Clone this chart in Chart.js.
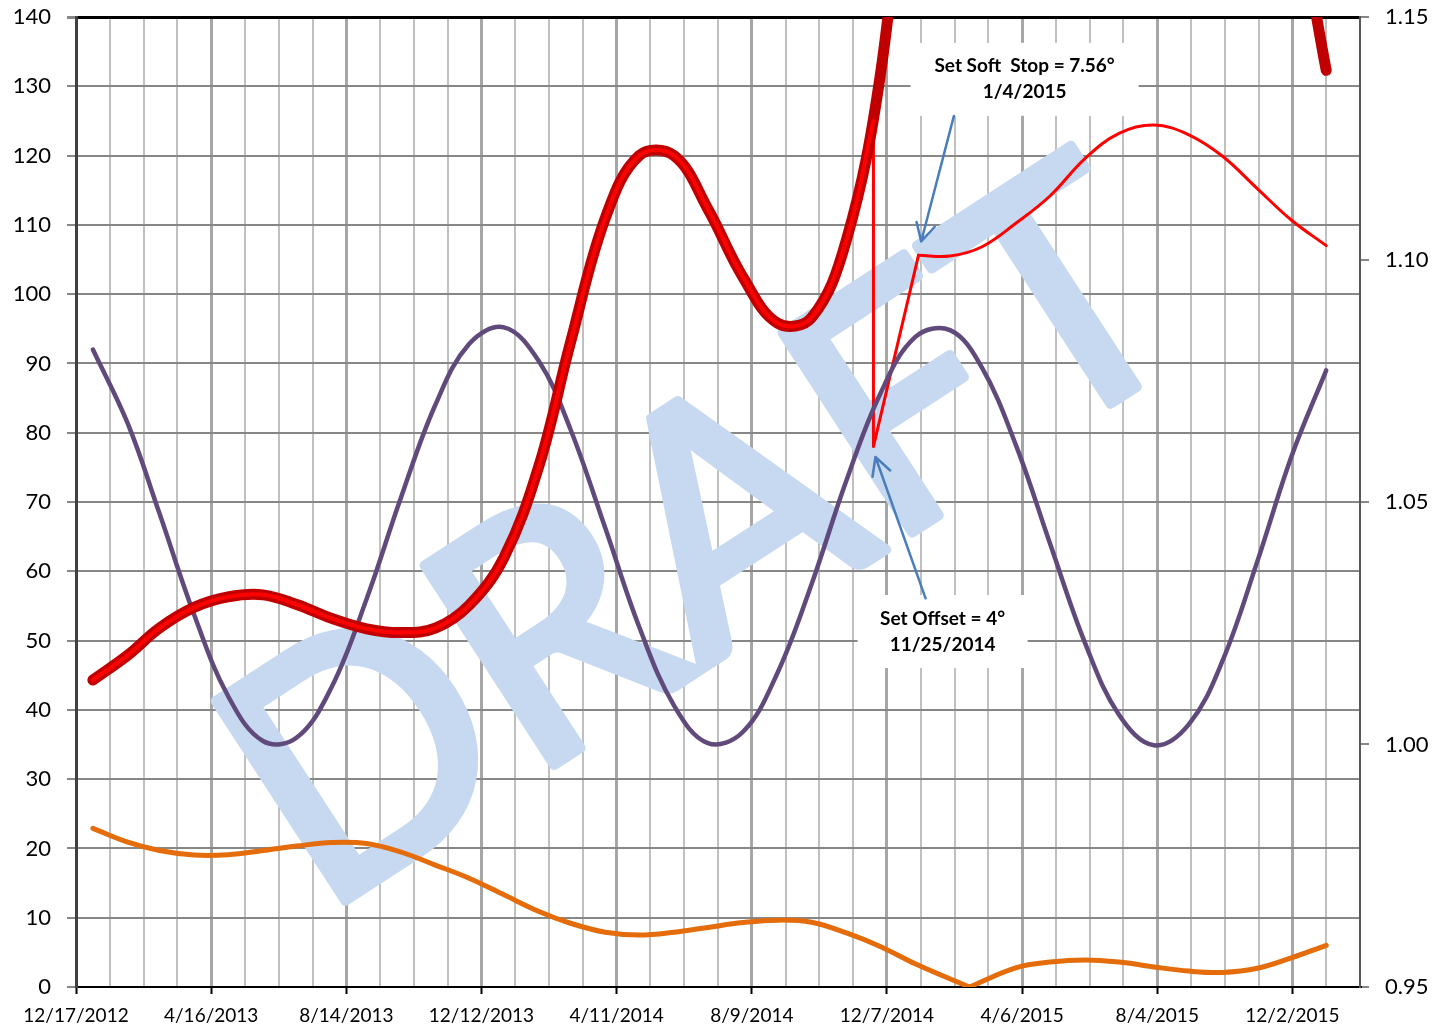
<!DOCTYPE html>
<html>
<head>
<meta charset="utf-8">
<script src="https://cdn.jsdelivr.net/npm/chart.js@4.4.1/dist/chart.umd.min.js"></script>
<style>
  html, body { margin: 0; padding: 0; background: #fff; }
  #wrap { width: 1443px; height: 1027px; }
</style>
</head>
<body>
<div id="wrap"><canvas id="grafico"></canvas></div>
<script>
// monthly dates (first day of each month)
const monthDates = [
  '2013-01-01', '2013-02-01', '2013-03-01', '2013-04-01', '2013-05-01', '2013-06-01',
  '2013-07-01', '2013-08-01', '2013-09-01', '2013-10-01', '2013-11-01', '2013-12-01',
  '2014-01-01', '2014-02-01', '2014-03-01', '2014-04-01', '2014-05-01', '2014-06-01',
  '2014-07-01', '2014-08-01', '2014-09-01', '2014-10-01', '2014-11-01', '2014-12-01',
  '2015-01-01', '2015-02-01', '2015-03-01', '2015-04-01', '2015-05-01', '2015-06-01',
  '2015-07-01', '2015-08-01', '2015-09-01', '2015-10-01', '2015-11-01', '2015-12-01',
  '2016-01-01'
];

// thick dark red series (goes above the top of the chart in 2015)
const thickValues = [
  44.3, 47.9, 51.8, 54.8, 56.3, 56.6, 55.2, 53.2, 51.7, 51.15, 51.8, 55.1,
  62.0, 75.2, 93.0, 111.0, 120.0, 120.0, 112.3, 102.5, 95.8, 96.6, 107.8, 131.5,
  175, 200, 214, 222, 225, 224, 220, 213, 203, 190, 176, 159,
  132.3
];

// thin red series (offset / soft stop)
const offsetDates = [
  '2013-01-01', '2013-02-01', '2013-03-01', '2013-04-01', '2013-05-01', '2013-06-01',
  '2013-07-01', '2013-08-01', '2013-09-01', '2013-10-01', '2013-11-01', '2013-12-01',
  '2014-01-01', '2014-02-01', '2014-03-01', '2014-04-01', '2014-05-01', '2014-06-01',
  '2014-07-01', '2014-08-01', '2014-09-01', '2014-10-01', '2014-11-01',
  '2014-11-25', '2014-11-25', '2015-01-04',
  '2015-02-01', '2015-03-01', '2015-04-01', '2015-05-01', '2015-06-01', '2015-07-01',
  '2015-08-01', '2015-09-01', '2015-10-01', '2015-11-01', '2015-12-01', '2016-01-01'
];
const offsetValues = [
  44.3, 47.9, 51.8, 54.8, 56.3, 56.6, 55.2, 53.2, 51.7, 51.15, 51.8, 55.1,
  62.0, 75.2, 93.0, 111.0, 120.0, 120.0, 112.3, 102.5, 95.8, 96.6, 107.8,
  125.0, 78.0, 105.6,
  105.5, 106.8, 110.3, 114.2, 119.6, 123.2, 124.4, 123.0, 119.9, 115.2, 110.7, 107.0
];

// purple series
const purpleValues = [
  92.0, 81.3, 68.4, 53.7, 42.0, 35.5, 36.0, 43.3, 56.0, 70.4, 84.0, 92.8,
  95.2, 90.3, 80.5, 66.2, 52.0, 40.6, 35.2, 36.8, 45.4, 58.1, 73.1, 85.6,
  93.8, 94.8, 89.5, 78.0, 63.9, 49.6, 39.3, 34.9, 37.9, 47.1, 61.5, 76.5,
  89.0
];

// orange series
const orangeDates = [
  '2013-01-01', '2013-02-01', '2013-03-01', '2013-04-01', '2013-05-01', '2013-06-01',
  '2013-07-01', '2013-08-01', '2013-09-01', '2013-10-01', '2013-11-01', '2013-12-01',
  '2014-01-01', '2014-02-01', '2014-03-01', '2014-04-01', '2014-05-01', '2014-06-01',
  '2014-07-01', '2014-08-01', '2014-09-01', '2014-10-01', '2014-11-01', '2014-12-01',
  '2015-01-01', '2015-02-18',
  '2015-04-01', '2015-05-01', '2015-06-01', '2015-07-01', '2015-08-01', '2015-09-01',
  '2015-10-01', '2015-11-01', '2015-12-01', '2016-01-01'
];
const orangeValues = [
  22.9, 20.9, 19.7, 19.05, 19.1, 19.7, 20.35, 20.85, 20.7, 19.5, 17.6, 15.7,
  13.3, 10.9, 9.2, 7.9, 7.5, 7.9, 8.6, 9.3, 9.65, 9.35, 7.8, 5.85,
  3.35, 0.0,
  2.8, 3.6, 3.9, 3.6, 2.9, 2.3, 2.1, 2.7, 4.2, 6.0
];

// axis settings
const startDate = '2012-12-17';
const xMaxDays = 1140;
const majorDays = 120;
const minorDays = 30;
const leftMin = 0, leftMax = 140, leftStep = 10;
const rightMin = 0.95, rightMax = 1.15, rightStep = 0.05;

// callouts (box centre and arrow given in chart units: days, left axis value)
const notes = [
  { lines: ['Set Soft  Stop = 7.56°', '1/4/2015'], day: 842.2, val: 131.0, w: 228, h: 73,
    fromDay: 779.4, fromVal: 125.7, toDay: 750.4, toVal: 107.6 },
  { lines: ['Set Offset = 4°', '11/25/2014'], day: 769.4, val: 51.3, w: 170, h: 73,
    fromDay: 754.3, fromVal: 56.1, toDay: 709.8, toVal: 76.5 }
];

// watermark anchor (lower left corner of the text, chart units)
const watermark = { text: 'DRAFT', day: 234.5, val: 11.1, angle: -33, width: 1035, capHeight: 248, stroke: 10, color: '#C6D9F1' };

const DAY = 86400000;
function toDay(s) {
  return (Date.parse(s) - Date.parse(startDate)) / DAY;
}
function dayLabel(v) {
  const d = new Date(Date.parse(startDate) + v * DAY);
  return (d.getUTCMonth() + 1) + '/' + d.getUTCDate() + '/' + d.getUTCFullYear();
}
function pts(dates, values, from, to) {
  const end = to === undefined ? dates.length : to;
  const out = [];
  for (let i = from; i < end; i++) out.push({ x: toDay(dates[i]), y: values[i] });
  return out;
}

function serie(data, color, width, tension) {
  return {
    data: data,
    borderColor: color,
    borderWidth: width,
    pointRadius: 0,
    tension: tension,
    borderCapStyle: 'round',
    borderJoinStyle: 'round',
    fill: false,
    clip: 0,
    yAxisID: 'y'
  };
}

// vertical axes: no extra room above/below for the end labels
function fitVertical(width) {
  return function (scale) {
    scale.width = width;
    scale.paddingTop = 0;
    scale.paddingBottom = 0;
  };
}

const watermarkPlugin = {
  id: 'watermark',
  beforeDatasetsDraw(chart) {
    const ctx = chart.ctx;
    const a = chart.chartArea;
    const ox = chart.scales.x.getPixelForValue(watermark.day);
    const oy = chart.scales.y.getPixelForValue(watermark.val);
    ctx.save();
    ctx.beginPath();
    ctx.rect(a.left, a.top, a.right - a.left, a.bottom - a.top);
    ctx.clip();
    ctx.translate(ox, oy);
    ctx.rotate(watermark.angle * Math.PI / 180);
    const sw = watermark.stroke;
    const fs = (watermark.capHeight - sw) / 0.7165;
    ctx.font = '400 ' + fs + 'px Lato';
    ctx.textAlign = 'left';
    ctx.textBaseline = 'alphabetic';
    const m = ctx.measureText(watermark.text);
    const bw = m.actualBoundingBoxLeft + m.actualBoundingBoxRight;
    const sx = (watermark.width - sw) / bw;
    ctx.translate(sw / 2, -sw / 2);
    ctx.scale(sx, 1);
    ctx.fillStyle = watermark.color;
    ctx.strokeStyle = watermark.color;
    ctx.lineWidth = sw;
    ctx.lineJoin = 'round';
    ctx.fillText(watermark.text, m.actualBoundingBoxLeft, 0);
    ctx.strokeText(watermark.text, m.actualBoundingBoxLeft, 0);
    ctx.restore();
  }
};

const notesPlugin = {
  id: 'notes',
  afterDatasetsDraw(chart) {
    const ctx = chart.ctx;
    const xs = chart.scales.x, ys = chart.scales.y;
    notes.forEach(n => {
      const cx = xs.getPixelForValue(n.day), cy = ys.getPixelForValue(n.val);
      ctx.save();
      ctx.fillStyle = '#FFFFFF';
      ctx.fillRect(cx - n.w / 2, cy - n.h / 2, n.w, n.h);
      ctx.fillStyle = '#000000';
      ctx.font = 'bold 19px Lato';
      ctx.textAlign = 'center';
      ctx.textBaseline = 'middle';
      ctx.fillText(n.lines[0], cx, cy - 13);
      ctx.fillText(n.lines[1], cx, cy + 13);

      // arrow
      const x1 = xs.getPixelForValue(n.fromDay), y1 = ys.getPixelForValue(n.fromVal);
      const x2 = xs.getPixelForValue(n.toDay), y2 = ys.getPixelForValue(n.toVal);
      const ang = Math.atan2(y1 - y2, x1 - x2);
      const len = 20, spread = 28 * Math.PI / 180;
      ctx.strokeStyle = '#4A7EBB';
      ctx.lineWidth = 2.5;
      ctx.lineCap = 'round';
      ctx.lineJoin = 'round';
      ctx.beginPath();
      ctx.moveTo(x1, y1);
      ctx.lineTo(x2, y2);
      ctx.moveTo(x2 + len * Math.cos(ang - spread), y2 + len * Math.sin(ang - spread));
      ctx.lineTo(x2, y2);
      ctx.lineTo(x2 + len * Math.cos(ang + spread), y2 + len * Math.sin(ang + spread));
      ctx.stroke();
      ctx.restore();
    });
  }
};

Chart.defaults.font.family = 'Lato';
Chart.defaults.color = '#000000';

const ctx = document.getElementById('grafico').getContext('2d');
const grafico = new Chart(ctx, {
  type: 'line',
  data: {
    datasets: [
      serie(pts(offsetDates, offsetValues, 0, 24), '#FF0000', 4, 0.38),   // inner stripe on thick line
      serie(pts(monthDates, thickValues, 0), '#C00000', 11, 0.38),
      serie(pts(monthDates, purpleValues, 0), '#604A7B', 4.5, 0.38),
      serie(pts(offsetDates, offsetValues, 23, 26), '#FF0000', 3, 0),
      serie(pts(offsetDates, offsetValues, 25), '#FF0000', 3, 0.38),
      serie(pts(orangeDates, orangeValues, 0, 26), '#E46C0A', 5, 0.38),
      serie(pts(orangeDates, orangeValues, 25), '#E46C0A', 5, 0.38)
    ]
  },
  options: {
    responsive: true,
    maintainAspectRatio: false,
    animation: false,
    layout: { padding: { top: 17, left: 0, right: 0, bottom: 0 } },
    elements: { line: { capBezierPoints: false } },
    plugins: {
      legend: { display: false },
      tooltip: { enabled: false }
    },
    scales: {
      x: {
        type: 'linear',
        min: 0,
        max: xMaxDays,
        afterFit(scale) { scale.height = 40; },
        ticks: {
          stepSize: minorDays,
          autoSkip: false,
          maxRotation: 0,
          padding: 10,
          font: { size: 19 },
          callback: v => (v % majorDays === 0 ? dayLabel(v) : '')
        },
        grid: {
          color: c => {
            const v = c.tick.value;
            if (v === 0) return '#404040';
            if (v === xMaxDays) return '#595959';
            return v % majorDays === 0 ? '#A6A6A6' : '#C0C0C0';
          },
          lineWidth: c => (c.tick.value % majorDays === 0 ? 3 : 2),
          tickColor: c => (c.tick.value % majorDays === 0 ? '#000000' : 'rgba(0,0,0,0)'),
          tickWidth: 2,
          tickLength: 7
        },
        border: { color: '#000000', width: 2 }
      },
      y: {
        position: 'left',
        min: leftMin,
        max: leftMax,
        afterFit: fitVertical(76),
        ticks: { stepSize: leftStep, padding: 16, font: { size: 22 } },
        grid: {
          color: c => (c.tick.value === leftMax || c.tick.value === leftMin ? '#000000' : '#878787'),
          lineWidth: c => (c.tick.value === leftMax ? 3 : 2),
          tickColor: '#878787',
          tickLength: 9
        },
        border: { color: '#404040', width: 3 }
      },
      y2: {
        position: 'right',
        min: rightMin,
        max: rightMax,
        afterFit: fitVertical(83),
        ticks: {
          stepSize: rightStep,
          padding: 16,
          font: { size: 22 },
          callback: v => Number(v).toFixed(2)
        },
        grid: {
          drawOnChartArea: false,
          color: '#878787',
          lineWidth: 2,
          tickLength: 9
        },
        border: { color: '#595959', width: 2 }
      }
    }
  },
  plugins: [watermarkPlugin, notesPlugin]
});
</script>
</body>
</html>
